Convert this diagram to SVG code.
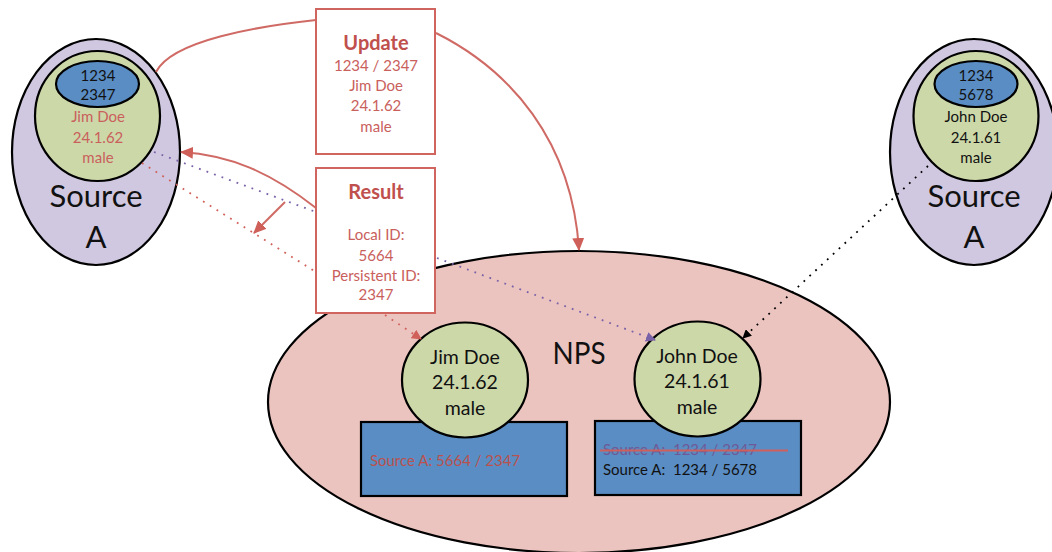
<svg xmlns="http://www.w3.org/2000/svg" width="1052" height="552" viewBox="0 0 1052 552">
<style>
text{font-family:Lato,"Open Sans","Liberation Sans",sans-serif;text-anchor:middle;fill:#111}
.red{fill:#c9605c}
.s{font-size:15px}
.l{font-size:19.500px}
.xl{font-size:31px}
.h{font-size:20px;font-weight:700;fill:#c0504d}
.outer{fill:#d0c8e0;stroke:#000;stroke-width:2.2}
.green{fill:#cdd8a9;stroke:#000;stroke-width:2.2}
.blue{fill:#5a8dc4;stroke:#000;stroke-width:2.2}
.box{fill:#fff;stroke:#d0645f;stroke-width:2}
.arc{fill:none;stroke:#cf6a65;stroke-width:2}
.dot{fill:none;stroke-width:1.800;stroke-dasharray:1.800 6.200}
</style>
<defs>
<marker id="ar" markerUnits="userSpaceOnUse" markerWidth="14" markerHeight="12" refX="12" refY="6" orient="auto"><path d="M0 0L13 6L0 12z" fill="#cf6059"/></marker>
<marker id="rs" markerUnits="userSpaceOnUse" markerWidth="10" markerHeight="10" refX="9" refY="5" orient="auto"><path d="M0 0L10 5L0 10z" fill="#d0605a"/></marker>
<marker id="ps" markerUnits="userSpaceOnUse" markerWidth="10" markerHeight="10" refX="9" refY="5" orient="auto"><path d="M0 0L10 5L0 10z" fill="#7a62a8"/></marker>
<marker id="bs" markerUnits="userSpaceOnUse" markerWidth="9" markerHeight="9" refX="8" refY="4.5" orient="auto"><path d="M0 0L9 4.500L0 9z" fill="#000"/></marker>
</defs>
<g id="source-a-left">
<ellipse class="outer" cx="96" cy="152" rx="84" ry="113"/>
<ellipse class="green" cx="97.500" cy="116" rx="62.500" ry="65"/>
<ellipse class="blue" cx="97.500" cy="84" rx="41.500" ry="23"/>
<text class="s" x="98" y="81">1234</text><text class="s" x="98" y="100">2347</text>
<text class="s red" x="98" y="122">Jim Doe</text><text class="s red" x="98" y="143">24.1.62</text><text class="s red" x="98" y="163">male</text>
<text class="xl" x="96" y="207">Source</text><text class="xl" x="96" y="248">A</text>
</g>
<g id="source-a-right">
<ellipse class="outer" cx="974" cy="152" rx="84" ry="113"/>
<ellipse class="green" cx="976" cy="116" rx="62.500" ry="65"/>
<ellipse class="blue" cx="976" cy="84" rx="41.500" ry="23"/>
<text class="s" x="976" y="81">1234</text><text class="s" x="976" y="100">5678</text>
<text class="s" x="976" y="122">John Doe</text><text class="s" x="976" y="143">24.1.61</text><text class="s" x="976" y="163">male</text>
<text class="xl" x="974" y="207">Source</text><text class="xl" x="974" y="248">A</text>
</g>
<g id="nps">
<ellipse cx="579" cy="402" rx="311" ry="151" fill="#ecc4bf" stroke="#000" stroke-width="2.200"/>
<text class="xl" x="579" y="364" textLength="53" lengthAdjust="spacingAndGlyphs">NPS</text>
</g>
<g id="jim-record">
<rect class="blue" x="361" y="422" width="206" height="74"/>
<ellipse class="green" cx="465" cy="380" rx="63" ry="57.500"/>
<text class="l" x="465" y="364">Jim Doe</text><text class="l" x="465" y="389">24.1.62</text><text class="l" x="465" y="415">male</text>
<text class="s" x="445" y="466" style="fill:#b9524f">Source A: 5664 / 2347</text>
</g>
<g id="john-record">
<rect class="blue" x="595" y="421" width="206" height="74"/>
<ellipse class="green" cx="697.500" cy="379" rx="63" ry="57.500"/>
<text class="l" x="697" y="363">John Doe</text><text class="l" x="697" y="388">24.1.61</text><text class="l" x="697" y="414">male</text>
<text class="s" x="680" y="455" style="fill:#6d5a96">Source A:&#160; 1234 / 2347</text>
<text class="s" x="680" y="475">Source A:&#160; 1234 / 5678</text>
<path d="M600 450.500H788" stroke="#cf5f5a" stroke-width="2"/>
</g>
<g id="connectors">
<path class="arc" d="M156 72C172 40 260 26 316 20"/>
<path class="arc" d="M436 33C510 70 572 140 579 250" marker-end="url(#ar)"/>
<path class="arc" d="M316 208C270 172 230 155 181 152" marker-end="url(#ar)"/>
<path class="arc" d="M285 202L254 233" marker-end="url(#ar)"/>
<path class="dot" stroke="#7a62a8" d="M154 152L316 212"/>
<path class="dot" stroke="#7a62a8" d="M437 258L655 340" marker-end="url(#ps)"/>
<path class="dot" stroke="#d0605a" d="M142 163L316 272"/>
<path class="dot" stroke="#d0605a" d="M385 315L421 339" marker-end="url(#rs)"/>
<path class="dot" stroke="#000" d="M928 166L743 338" marker-end="url(#bs)"/>
</g>
<g id="update">
<rect class="box" x="316" y="9" width="119" height="145"/>
<text class="h" x="376" y="50">Update</text>
<text class="s red" x="376" y="71">1234 / 2347</text><text class="s red" x="376" y="91">Jim Doe</text><text class="s red" x="376" y="111">24.1.62</text><text class="s red" x="376" y="132">male</text>
</g>
<g id="result">
<rect class="box" x="316" y="168" width="119" height="145"/>
<text class="h" x="376" y="199">Result</text>
<text class="s red" x="376" y="240">Local ID:</text><text class="s red" x="376" y="261">5664</text><text class="s red" x="376" y="281">Persistent ID:</text><text class="s red" x="376" y="300">2347</text>
</g>
</svg>
